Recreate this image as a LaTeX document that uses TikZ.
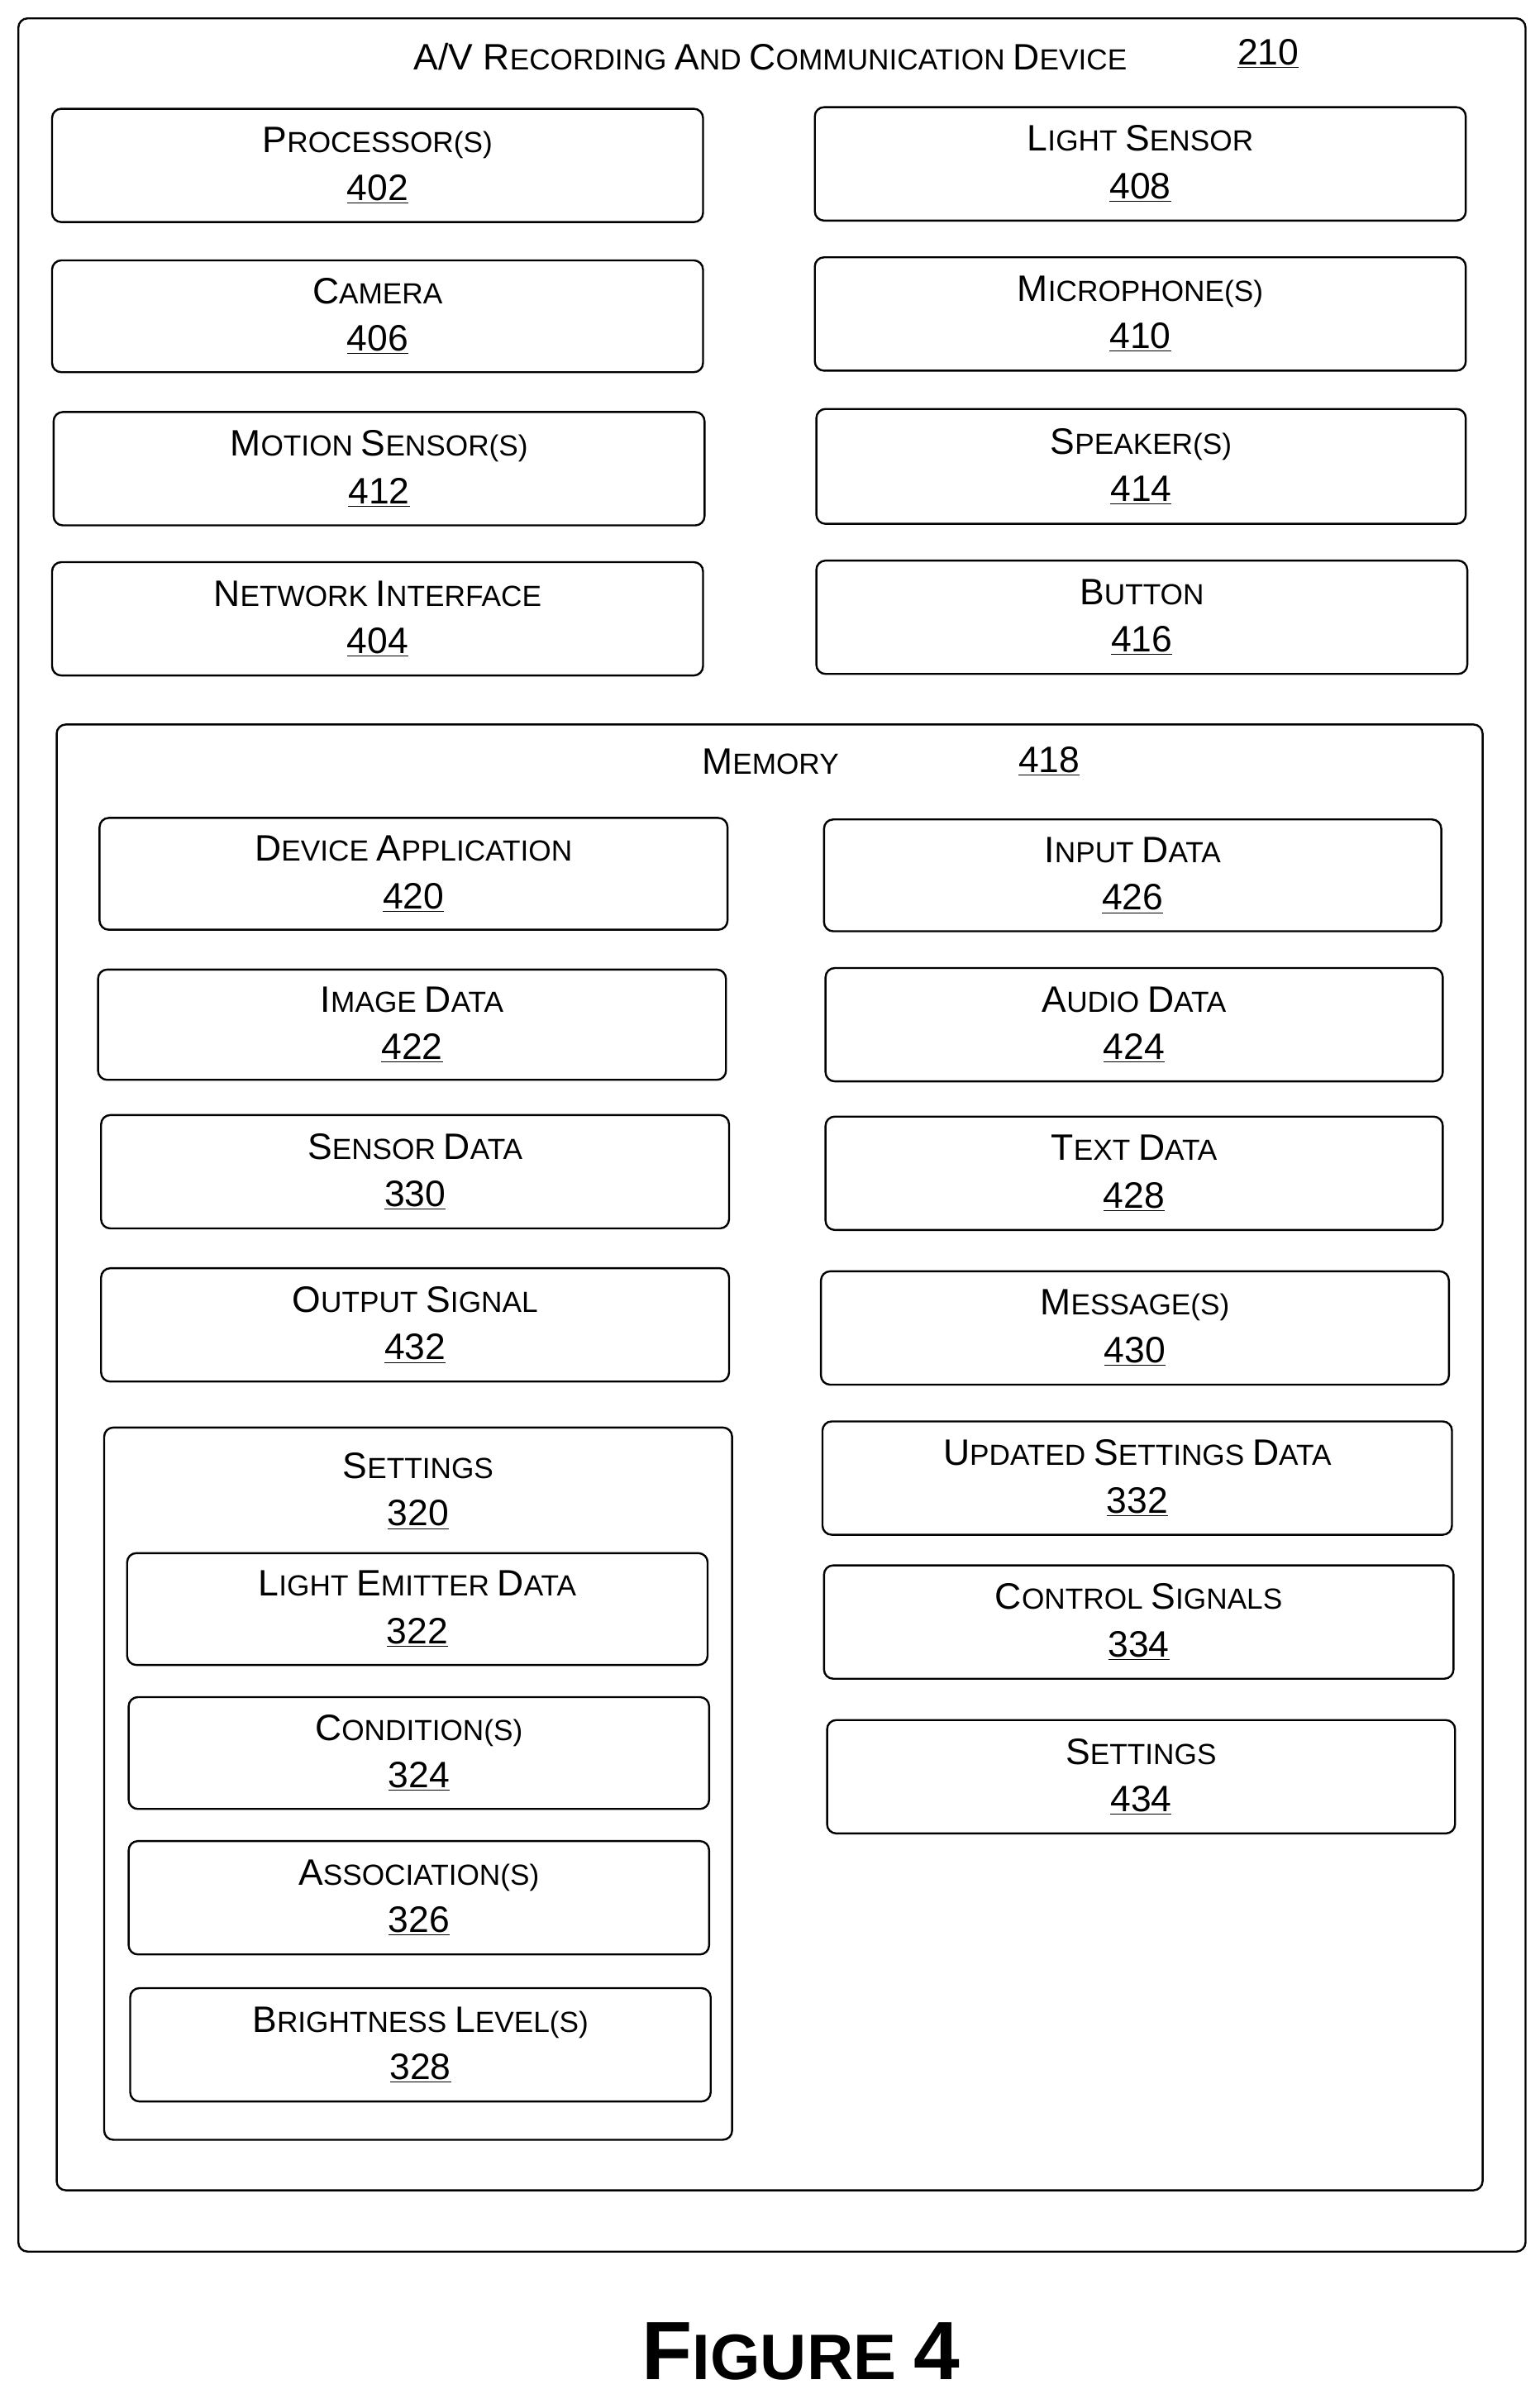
\documentclass[tikz,border=0pt]{standalone}
\usepackage{fontspec}
\setmainfont{Liberation Sans}
\newcommand\Bg[1]{{\fontsize{24}{30}\selectfont #1}}
\newcommand\Sm[1]{{\fontsize{19}{30}\selectfont #1}}
\newcommand\Num[1]{{\fontsize{24}{30}\selectfont\underline{#1}}}
\tikzset{box/.style={draw,line width=1.3pt,rounded corners=6pt,inner sep=0pt,outer sep=0pt,align=center,font=\fontsize{24}{31}\selectfont}}
\newcommand\bx[7]{\node[box,minimum width={#4-#2},minimum height={#5-#3}] (#1) at ({(#2+#4)/2},{(#3+#5)/2}) {#6\\\Num{#7}};}
\begin{document}
\begin{tikzpicture}[x=1pt,y=-1pt]
\useasboundingbox (0,0) rectangle (1005,1563);
\node[box,minimum width=984,minimum height=1458] (outer) at (504,741) {};
\node (title) at (503,37) {\Bg{A/V R}\Sm{ECORDING }\Bg{A}\Sm{ND }\Bg{C}\Sm{OMMUNICATION }\Bg{D}\Sm{EVICE}};
\node (n210) at (828,35) {\Num{210}};
\bx{p}{34}{71}{459}{145}{\Bg{P}\Sm{ROCESSOR(S)}}{402}
\bx{cam}{34}{170}{459}{243}{\Bg{C}\Sm{AMERA}}{406}
\bx{ms}{35}{269}{460}{343}{\Bg{M}\Sm{OTION }\Bg{S}\Sm{ENSOR(S)}}{412}
\bx{ni}{34}{367}{459}{441}{\Bg{N}\Sm{ETWORK }\Bg{I}\Sm{NTERFACE}}{404}
\bx{ls}{532}{70}{957}{144}{\Bg{L}\Sm{IGHT }\Bg{S}\Sm{ENSOR}}{408}
\bx{mic}{532}{168}{957}{242}{\Bg{M}\Sm{ICROPHONE(S)}}{410}
\bx{spk}{533}{267}{957}{342}{\Bg{S}\Sm{PEAKER(S)}}{414}
\bx{btn}{533}{366}{958}{440}{\Bg{B}\Sm{UTTON}}{416}
\node[box,minimum width=931,minimum height=957] (mem) at (502.5,951.5) {};
\node (memt) at (503,497) {\Bg{M}\Sm{EMORY}};
\node (n418) at (685,497) {\Num{418}};
\bx{da}{65}{534}{475}{607}{\Bg{D}\Sm{EVICE }\Bg{A}\Sm{PPLICATION}}{420}
\bx{im}{64}{633}{474}{705}{\Bg{I}\Sm{MAGE }\Bg{D}\Sm{ATA}}{422}
\bx{sd}{66}{728}{476}{802}{\Bg{S}\Sm{ENSOR }\Bg{D}\Sm{ATA}}{330}
\bx{os}{66}{828}{476}{902}{\Bg{O}\Sm{UTPUT }\Bg{S}\Sm{IGNAL}}{432}
\bx{id}{538}{535}{941}{608}{\Bg{I}\Sm{NPUT }\Bg{D}\Sm{ATA}}{426}
\bx{ad}{539}{632}{942}{706}{\Bg{A}\Sm{UDIO }\Bg{D}\Sm{ATA}}{424}
\bx{td}{539}{729}{942}{803}{\Bg{T}\Sm{EXT }\Bg{D}\Sm{ATA}}{428}
\bx{msg}{536}{830}{946}{904}{\Bg{M}\Sm{ESSAGE(S)}}{430}
\bx{usd}{537}{928}{948}{1002}{\Bg{U}\Sm{PDATED }\Bg{S}\Sm{ETTINGS }\Bg{D}\Sm{ATA}}{332}
\bx{cs}{538}{1022}{949}{1096}{\Bg{C}\Sm{ONTROL }\Bg{S}\Sm{IGNALS}}{334}
\bx{st2}{540}{1123}{950}{1197}{\Bg{S}\Sm{ETTINGS}}{434}
\node[box,minimum width=410,minimum height=465] (set) at (273,1164.5) {};
\node (sett) at (273,957) {\Bg{S}\Sm{ETTINGS}};
\node (n320) at (273,989) {\Num{320}};
\bx{le}{83}{1014}{462}{1087}{\Bg{L}\Sm{IGHT }\Bg{E}\Sm{MITTER }\Bg{D}\Sm{ATA}}{322}
\bx{cond}{84}{1108}{463}{1181}{\Bg{C}\Sm{ONDITION(S)}}{324}
\bx{asc}{84}{1202}{463}{1276}{\Bg{A}\Sm{SSOCIATION(S)}}{326}
\bx{bl}{85}{1298}{464}{1372}{\Bg{B}\Sm{RIGHTNESS }\Bg{L}\Sm{EVEL(S)}}{328}
\node[font=\bfseries,inner sep=0pt] (fig) at (523,1535) {{\fontsize{54}{60}\selectfont F}{\fontsize{42}{60}\selectfont IGURE }{\fontsize{54}{60}\selectfont 4}};
\end{tikzpicture}
\end{document}
